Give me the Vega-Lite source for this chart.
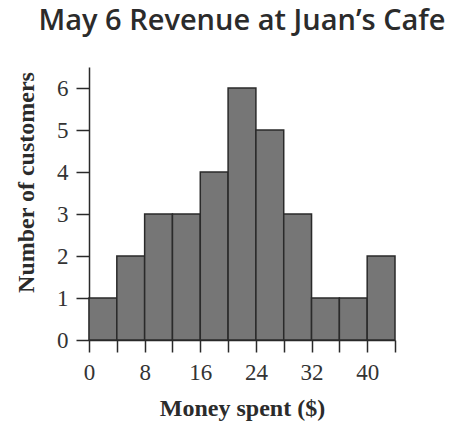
{
  "$schema": "https://vega.github.io/schema/vega-lite/v6.json",
  "width": 306,
  "height": 273,
  "autosize": "none",
  "padding": {"left": 89, "top": 67, "right": 60, "bottom": 86},
  "background": "white",
  "title": {
    "text": "May 6 Revenue at Juan’s Cafe",
    "font": "Open Sans",
    "fontWeight": 600,
    "fontSize": 29,
    "color": "#2b2b2b",
    "anchor": "middle",
    "frame": "group",
    "baseline": "alphabetic",
    "offset": 8
  },
  "data": {
    "values": [
      {"start": 0, "end": 4, "count": 1},
      {"start": 4, "end": 8, "count": 2},
      {"start": 8, "end": 12, "count": 3},
      {"start": 12, "end": 16, "count": 3},
      {"start": 16, "end": 20, "count": 4},
      {"start": 20, "end": 24, "count": 6},
      {"start": 24, "end": 28, "count": 5},
      {"start": 28, "end": 32, "count": 3},
      {"start": 32, "end": 36, "count": 1},
      {"start": 36, "end": 40, "count": 1},
      {"start": 40, "end": 44, "count": 2}
    ]
  },
  "mark": {"type": "rect", "fill": "#767676", "stroke": "#2a2a2a", "strokeWidth": 1.5},
  "encoding": {
    "x": {
      "field": "start",
      "type": "quantitative",
      "scale": {"domain": [0, 44], "nice": false, "zero": false},
      "axis": {
        "title": "Money spent ($)",
        "values": [0, 4, 8, 12, 16, 20, 24, 28, 32, 36, 40, 44],
        "labelExpr": "datum.value % 8 == 0 && datum.value <= 40 ? datum.label : ''",
        "grid": false,
        "domainColor": "#2a2a2a",
        "domainWidth": 1.5,
        "tickColor": "#2a2a2a",
        "tickWidth": 1.5,
        "tickSize": 12,
        "labelFont": "Liberation Serif",
        "labelFontSize": 23,
        "labelColor": "#333333",
        "labelPadding": 9,
        "labelFlush": false,
        "titleFont": "Liberation Serif",
        "titleFontWeight": "bold",
        "titleFontSize": 24,
        "titleColor": "#2b2b2b",
        "titleBaseline": "alphabetic",
        "titleY": 75
      }
    },
    "x2": {"field": "end"},
    "y": {
      "field": "count",
      "type": "quantitative",
      "scale": {"domain": [0, 6.5], "nice": false},
      "axis": {
        "title": "Number of customers",
        "values": [0, 1, 2, 3, 4, 5, 6],
        "grid": false,
        "domainColor": "#2a2a2a",
        "domainWidth": 1.5,
        "tickColor": "#2a2a2a",
        "tickWidth": 1.5,
        "tickSize": 13,
        "labelFont": "Liberation Serif",
        "labelFontSize": 23,
        "labelColor": "#333333",
        "labelPadding": 8,
        "labelFlush": false,
        "titleFont": "Liberation Serif",
        "titleFontWeight": "bold",
        "titleFontSize": 24,
        "titleColor": "#2b2b2b",
        "titleBaseline": "alphabetic",
        "titleAngle": -90,
        "titleX": -56,
        "titleY": 115
      }
    },
    "y2": {"datum": 0}
  },
  "config": {"view": {"stroke": null}}
}
